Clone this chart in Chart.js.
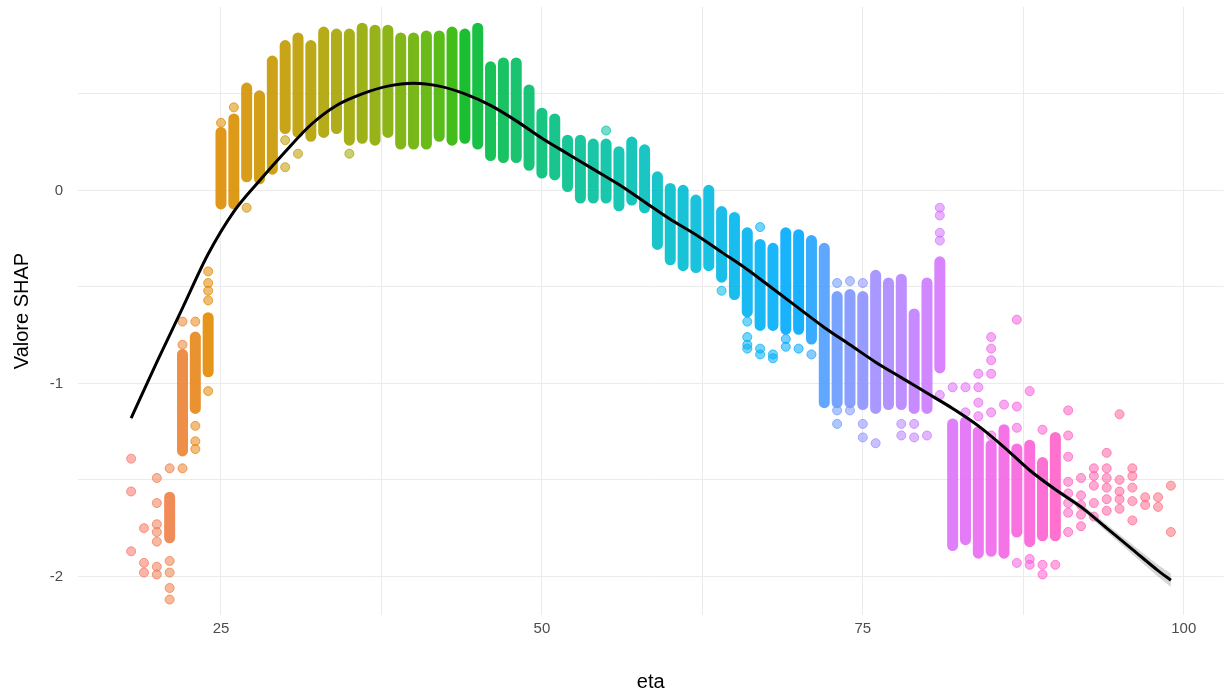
<!DOCTYPE html>
<html>
<head>
<meta charset="utf-8">
<script src="https://cdn.jsdelivr.net/npm/chart.js@4/dist/chart.umd.min.js"></script>
<style>
html, body { margin: 0; padding: 0; background: #fff; }
</style>
</head>
<body>
<canvas id="myChart" width="1229" height="695"></canvas>
<script>
// eta levels (one colour each, ggplot hue palette)
const ages = [18, 19, 20, 21, 22, 23, 24, 25, 26, 27, 28, 29, 30, 31, 32, 33, 34, 35, 36, 37,
    38, 39, 40, 41, 42, 43, 44, 45, 46, 47, 48, 49, 50, 51, 52, 53, 54, 55, 56, 57,
    58, 59, 60, 61, 62, 63, 64, 65, 66, 67, 68, 69, 70, 71, 72, 73, 74, 75, 76, 77,
    78, 79, 80, 81, 82, 83, 84, 85, 86, 87, 88, 89, 90, 91, 92, 93, 94, 95, 96, 97, 98, 99];

// dense band of SHAP values per age (top / bottom point), null = only scattered points
const denseHigh = [null, null, null, -1.59, -0.85, -0.76, -0.66, 0.30, 0.37, 0.53, 0.49, 0.67, 0.75, 0.79, 0.75, 0.82, 0.81, 0.81, 0.84, 0.83,
    0.83, 0.79, 0.79, 0.80, 0.80, 0.82, 0.81, 0.84, 0.64, 0.66, 0.66, 0.52, 0.40, 0.37, 0.26, 0.26, 0.24, 0.24, 0.20, 0.25,
    0.21, 0.07, 0.01, 0.00, -0.05, 0.00, -0.11, -0.14, -0.22, -0.28, -0.30, -0.22, -0.23, -0.26, -0.30, -0.55, -0.54, -0.55, -0.44, -0.48,
    -0.46, -0.64, -0.48, -0.37, -1.21, -1.20, -1.25, -1.32, -1.24, -1.34, -1.32, -1.41, -1.28, null, null, null, null, null, null, null, null, null];
const denseLow = [null, null, null, -1.80, -1.35, -1.13, -0.94, -0.07, -0.07, 0.07, 0.06, 0.11, 0.32, 0.30, 0.28, 0.30, 0.32, 0.26, 0.27, 0.26,
    0.30, 0.24, 0.24, 0.24, 0.28, 0.26, 0.27, 0.24, 0.18, 0.17, 0.17, 0.13, 0.09, 0.08, 0.02, -0.04, -0.04, -0.04, -0.08, -0.05,
    -0.09, -0.28, -0.36, -0.39, -0.40, -0.39, -0.45, -0.54, -0.63, -0.70, -0.70, -0.72, -0.72, -0.77, -1.10, -1.10, -1.10, -1.11, -1.13, -1.11,
    -1.11, -1.13, -1.13, -0.92, -1.84, -1.81, -1.88, -1.87, -1.88, -1.77, -1.82, -1.79, -1.79, null, null, null, null, null, null, null, null, null];

// single points outside the dense bands
const extraValues = [
    [-1.39, -1.56, -1.87], [-1.75, -1.93, -1.98], [-1.49, -1.62, -1.73, -1.77, -1.82, -1.95, -1.99],
    [-1.44, -1.92, -1.98, -2.06, -2.12], [-0.68, -0.80, -1.44], [-0.68, -1.22, -1.30, -1.34],
    [-0.42, -0.48, -0.52, -0.57, -1.04], [0.35], [0.43], [-0.09], [], [], [0.26, 0.12], [0.19], [], [], [], [0.19], [], [],
    [], [], [], [], [], [], [], [], [], [], [], [], [], [], [], [], [], [0.31], [], [],
    [], [], [], [], [], [], [-0.52], [], [-0.68, -0.76, -0.80, -0.82], [-0.19, -0.82, -0.85], [-0.85, -0.87], [-0.77, -0.81], [-0.82], [-0.85],
    [], [-0.48, -1.14, -1.21], [-0.47, -1.14], [-0.48, -1.21, -1.28], [-1.31], [], [-1.21, -1.27], [-1.21, -1.28], [-1.27],
    [-0.09, -0.13, -0.22, -0.26, -1.06], [-1.02], [-1.02, -1.15], [-0.95, -1.02, -1.10, -1.17],
    [-0.76, -0.82, -0.88, -0.95, -1.15, -1.27], [-1.11], [-0.67, -1.12, -1.23, -1.93], [-1.04, -1.91, -1.94],
    [-1.24, -1.94, -1.99], [-1.94], [-1.14, -1.27, -1.38, -1.51, -1.57, -1.62, -1.67, -1.77],
    [-1.49, -1.58, -1.63, -1.68, -1.74], [-1.44, -1.48, -1.53, -1.62, -1.69], [-1.36, -1.44, -1.49, -1.54, -1.60, -1.66],
    [-1.16, -1.50, -1.56, -1.60, -1.65], [-1.44, -1.48, -1.54, -1.61, -1.71], [-1.59, -1.63], [-1.59, -1.64], [-1.53, -1.77]
];

// smoothed trend (loess) and its confidence half width
const smoothAges = [18, 20, 22, 24, 26, 28, 30, 32, 34, 36, 38, 40, 42, 44, 46, 48, 50, 52, 54, 56, 58,
    60, 62, 64, 66, 68, 70, 72, 74, 76, 78, 80, 82, 84, 86, 88, 90, 92, 94, 96, 98, 99];
const smoothValues = [-1.18, -0.89, -0.61, -0.33, -0.11, 0.05, 0.20, 0.34, 0.44, 0.50, 0.54, 0.555, 0.54, 0.50, 0.44, 0.36, 0.27, 0.19, 0.11, 0.03, -0.06,
    -0.15, -0.23, -0.32, -0.41, -0.51, -0.61, -0.71, -0.80, -0.89, -0.97, -1.05, -1.13, -1.22, -1.33, -1.45, -1.55, -1.64, -1.75, -1.86, -1.97, -2.02];
const smoothHalf = [0.015, 0.01, 0.01, 0.01, 0.01, 0.01, 0.01, 0.01, 0.01, 0.01, 0.01, 0.01, 0.01, 0.01, 0.01, 0.01, 0.01, 0.01, 0.01, 0.01, 0.01,
    0.01, 0.01, 0.01, 0.01, 0.01, 0.01, 0.01, 0.01, 0.01, 0.01, 0.01, 0.01, 0.01, 0.01, 0.01, 0.012, 0.015, 0.02, 0.025, 0.03, 0.035];

const xTicks = [25, 50, 75, 100];
const xGrid = [25, 37.5, 50, 62.5, 75, 87.5, 100];
const yTicks = [-2, -1, 0];
const yGrid = [-2, -1.5, -1, -0.5, 0, 0.5];

// R hcl(h, c, l) -> rgb
function hcl(h, c, l) {
    const hr = h * Math.PI / 180;
    const U = c * Math.cos(hr), V = c * Math.sin(hr);
    const Y = l > 7.999592 ? Math.pow((l + 16) / 116, 3) : l / 903.3;
    const u = U / (13 * l) + 0.1978398, v = V / (13 * l) + 0.4683363;
    const X = 9 * Y * u / (4 * v);
    const Z = -X / 3 - 5 * Y + 3 * Y / v;
    const gam = t => t > 0.0031308 ? 1.055 * Math.pow(t, 1 / 2.4) - 0.055 : 12.92 * t;
    return [
        gam(3.240479 * X - 1.537150 * Y - 0.498535 * Z),
        gam(-0.969256 * X + 1.875992 * Y + 0.041556 * Z),
        gam(0.055648 * X - 0.204043 * Y + 1.057311 * Z)
    ].map(t => Math.round(255 * Math.min(1, Math.max(0, t))));
}
const hues = ages.map((a, i) => hcl(15 + 360 * i / ages.length, 100, 65));
function ageColor(age, alpha) {
    const rgb = hues[ages.indexOf(age)] || [0, 0, 0];
    return 'rgba(' + rgb.join(',') + ',' + alpha + ')';
}

const densePoints = [];
ages.forEach((a, i) => {
    if (denseHigh[i] === null) return;
    densePoints.push({x: a, y: denseHigh[i]}, {x: a, y: denseLow[i]}, {x: a, y: null});
});
const extraPoints = [];
ages.forEach((a, i) => extraValues[i].forEach(v => extraPoints.push({x: a, y: v})));

const ctx = document.getElementById('myChart');
const myChart = new Chart(ctx, {
    type: 'scatter',
    data: {
        datasets: [{
            data: smoothAges.map((a, i) => ({x: a, y: smoothValues[i]})),
            showLine: true,
            borderColor: '#000000',
            borderWidth: 3,
            pointRadius: 0,
            cubicInterpolationMode: 'monotone',
            order: 0
        }, {
            data: smoothAges.map((a, i) => ({x: a, y: smoothValues[i] + smoothHalf[i]})),
            showLine: true,
            borderWidth: 0,
            pointRadius: 0,
            backgroundColor: 'rgba(153,153,153,0.4)',
            fill: '+1',
            cubicInterpolationMode: 'monotone',
            order: 1
        }, {
            data: smoothAges.map((a, i) => ({x: a, y: smoothValues[i] - smoothHalf[i]})),
            showLine: true,
            borderWidth: 0,
            pointRadius: 0,
            cubicInterpolationMode: 'monotone',
            order: 1
        }, {
            data: extraPoints,
            pointRadius: 4.5,
            borderWidth: 1,
            backgroundColor: c => ageColor(c.raw ? c.raw.x : 0, 0.55),
            borderColor: c => ageColor(c.raw ? c.raw.x : 0, 0.75),
            order: 2
        }, {
            data: densePoints,
            showLine: true,
            spanGaps: false,
            pointRadius: 0,
            borderWidth: 11,
            borderCapStyle: 'round',
            borderColor: '#888',
            segment: {
                borderColor: c => ageColor(c.p0.parsed.x, 0.9)
            },
            order: 3
        }]
    },
    options: {
        responsive: false,
        animation: false,
        layout: {padding: {top: 7, right: 5, left: 0, bottom: 0}},
        scales: {
            x: {
                type: 'linear',
                min: 13.86,
                max: 103.1,
                afterBuildTicks: s => { s.ticks = xGrid.map(v => ({value: v})); },
                afterFit: s => { s.height = 80; },
                grid: {color: '#ebebeb', lineWidth: 1, drawTicks: false},
                border: {display: false},
                ticks: {
                    padding: 5,
                    maxRotation: 0,
                    autoSkip: false,
                    color: '#4d4d4d',
                    font: {family: "'Liberation Sans', Arial, sans-serif", size: 15},
                    callback: v => xTicks.includes(v) ? String(v) : ''
                },
                title: {
                    display: true,
                    text: 'eta',
                    color: '#000000',
                    font: {family: "'Liberation Sans', Arial, sans-serif", size: 20},
                    padding: {top: 0, bottom: 1}
                }
            },
            y: {
                min: -2.2,
                max: 0.95,
                afterBuildTicks: s => { s.ticks = yGrid.map(v => ({value: v})); },
                afterFit: s => { s.width = 78; s.paddingTop = 0; s.paddingBottom = 0; },
                grid: {color: '#ebebeb', lineWidth: 1, drawTicks: false},
                border: {display: false},
                ticks: {
                    padding: 15,
                    color: '#4d4d4d',
                    font: {family: "'Liberation Sans', Arial, sans-serif", size: 15},
                    callback: v => yTicks.includes(v) ? String(v) : ''
                },
                title: {
                    display: true,
                    text: 'Valore SHAP',
                    color: '#000000',
                    font: {family: "'Liberation Sans', Arial, sans-serif", size: 20},
                    padding: {top: 10, bottom: 0}
                }
            }
        },
        plugins: {
            legend: {display: false},
            tooltip: {enabled: false}
        }
    }
});
</script>
</body>
</html>
